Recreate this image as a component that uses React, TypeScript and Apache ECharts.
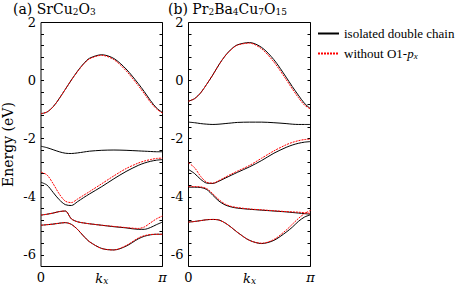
import React, { useEffect, useRef } from "react";
import * as echarts from "echarts";

// k_x sample points, in units of pi
const kx = [0, 0.05, 0.1, 0.15, 0.2, 0.25, 0.3, 0.35, 0.4, 0.5, 0.6, 0.7, 0.8, 0.85, 0.9, 0.95, 1];

// (a) SrCu2O3
const a1Black = [-1.14, -1.08, -0.9, -0.62, -0.3, 0.02, 0.32, 0.58, 0.77, 0.89, 0.76, 0.4, -0.1, -0.38, -0.68, -0.94, -1.1];
const a1Red = [-1.14, -1.08, -0.9, -0.62, -0.3, 0.02, 0.31, 0.56, 0.75, 0.87, 0.72, 0.34, -0.17, -0.45, -0.74, -0.97, -1.12];
const a2Black = [-2.26, -2.31, -2.38, -2.45, -2.5, -2.51, -2.49, -2.46, -2.43, -2.4, -2.39, -2.4, -2.42, -2.43, -2.44, -2.45, -2.45];
const a3Black = [-3.5, -3.6, -3.85, -4.1, -4.27, -4.3, -4.17, -4.03, -3.9, -3.65, -3.38, -3.13, -2.92, -2.84, -2.78, -2.74, -2.72];
const a3Red = [-3.15, -3.25, -3.55, -3.9, -4.15, -4.2, -4.08, -3.95, -3.82, -3.55, -3.28, -3.03, -2.84, -2.77, -2.72, -2.68, -2.67];
const a4Black = [-4.63, -4.6, -4.56, -4.51, -4.49, -4.76, -4.86, -4.9, -4.93, -4.98, -5.03, -5.07, -5.12, -5.12, -5.06, -4.96, -4.87];
const a4Red = [-4.63, -4.6, -4.56, -4.51, -4.49, -4.76, -4.86, -4.9, -4.93, -4.98, -5.02, -5.06, -5.09, -5.04, -4.9, -4.76, -4.66];
const a5Black = [-4.98, -4.96, -4.94, -4.91, -4.89, -4.95, -5.12, -5.35, -5.55, -5.78, -5.83, -5.7, -5.45, -5.36, -5.31, -5.29, -5.29];
const a5Red = [-4.98, -4.96, -4.94, -4.91, -4.89, -4.95, -5.12, -5.35, -5.55, -5.78, -5.83, -5.68, -5.42, -5.34, -5.3, -5.29, -5.29];

// (b) Pr2Ba4Cu7O15
const b1Black = [-0.71, -0.62, -0.42, -0.12, 0.2, 0.55, 0.85, 1.08, 1.23, 1.31, 1.14, 0.72, 0.12, -0.2, -0.5, -0.78, -0.97];
const b1Red = [-0.71, -0.62, -0.42, -0.12, 0.2, 0.55, 0.85, 1.07, 1.22, 1.29, 1.09, 0.64, 0.04, -0.28, -0.58, -0.84, -0.98];
const b2Black = [-1.43, -1.45, -1.48, -1.5, -1.51, -1.5, -1.48, -1.46, -1.44, -1.43, -1.43, -1.45, -1.48, -1.5, -1.51, -1.51, -1.51];
const b3Black = [-3.06, -3.2, -3.4, -3.53, -3.54, -3.46, -3.36, -3.26, -3.16, -2.97, -2.75, -2.5, -2.3, -2.22, -2.16, -2.12, -2.1];
const b3Red = [-2.83, -3.0, -3.3, -3.5, -3.53, -3.44, -3.33, -3.22, -3.12, -2.92, -2.67, -2.42, -2.21, -2.13, -2.07, -2.03, -2.02];
const b4Black = [-3.67, -3.67, -3.68, -3.75, -3.95, -4.15, -4.28, -4.35, -4.39, -4.43, -4.46, -4.49, -4.52, -4.54, -4.56, -4.58, -4.6];
const b4Red = [-3.65, -3.65, -3.66, -3.72, -3.9, -4.1, -4.25, -4.33, -4.37, -4.42, -4.45, -4.48, -4.51, -4.52, -4.53, -4.55, -4.57];
const b5Black = [-4.87, -4.85, -4.82, -4.79, -4.78, -4.8, -4.9, -5.05, -5.22, -5.5, -5.61, -5.5, -5.22, -5.05, -4.85, -4.7, -4.62];
const b5Red = [-4.87, -4.85, -4.82, -4.79, -4.78, -4.8, -4.9, -5.05, -5.22, -5.5, -5.6, -5.47, -5.15, -4.95, -4.75, -4.58, -4.47];

const NAME_BLACK = "isolated double chain";
const NAME_RED = "without O1-px";
const xTickLabels = ["0", "π"];
const yLabelValues = [-6, -4, -2, 0, 2];

const FONT = "DejaVu Serif";
const FONT2 = "Liberation Serif";

export default function App() {
  const ref = useRef<HTMLDivElement>(null);
  useEffect(() => {
    document.body.style.margin = "0";
    const chart = echarts.init(ref.current!, null, { renderer: "svg" });

    const mk = (name: string, ys: number[], g: number, red: boolean) => ({
      type: "line",
      name,
      data: kx.map((x, i) => [x, ys[i]]),
      xAxisIndex: g,
      yAxisIndex: g * 2,
      symbol: "none",
      smooth: 0.3,
      silent: true,
      z: red ? 3 : 2,
      lineStyle: { color: red ? "#ff0000" : "#000000", width: 1, type: red ? [2, 1] : "solid" },
      itemStyle: { color: red ? "#ff0000" : "#000000" },
    });

    const yAx = (g: number, position: string, labels: boolean) => ({
      type: "value",
      gridIndex: g,
      position,
      min: -6.4,
      max: 2,
      interval: 0.4,
      axisLine: { show: false },
      axisTick: { show: true, inside: true, length: 3, lineStyle: { color: "#000", width: 1 } },
      splitLine: { show: false },
      axisLabel: {
        show: labels,
        color: "#000",
        fontFamily: FONT,
        fontSize: 13,
        margin: 5,
        formatter: (v: number) => {
          const r = Math.round(v);
          return Math.abs(v - r) < 1e-6 && yLabelValues.includes(r) ? String(r) : "";
        },
      },
      ...(g === 0 && position === "left"
        ? {
            name: "Energy (eV)",
            nameLocation: "middle",
            nameGap: 26,
            nameMoveOverlap: false,
            nameTextStyle: { color: "#000", fontFamily: FONT, fontSize: 14 },
          }
        : {}),
    });

    const xAx = (g: number) => ({
      type: "value",
      gridIndex: g,
      min: 0,
      max: 1,
      interval: 1,
      axisLine: { show: false },
      axisTick: { show: false },
      splitLine: { show: false },
      axisLabel: {
        color: "#000",
        fontFamily: FONT,
        fontSize: 13,
        margin: 4,
        formatter: (v: number) => (v === 0 ? "{n|" + xTickLabels[0] + "}" : "{p|" + xTickLabels[1] + "}"),
        rich: {
          n: { fontFamily: FONT, fontSize: 13, color: "#000" },
          p: { fontFamily: FONT, fontSize: 13, color: "#000", fontStyle: "italic" },
        },
      },
      name: "{k|k}{s|x}",
      nameLocation: "middle",
      nameGap: 5,
      nameMoveOverlap: false,
      nameTextStyle: {
        rich: {
          k: { fontFamily: FONT, fontStyle: "italic", fontSize: 13, color: "#000", lineHeight: 14 },
          s: { fontFamily: FONT, fontStyle: "italic", fontSize: 9, color: "#000", lineHeight: 8, verticalAlign: "bottom" },
        },
      },
    });

    const titleRich = {
      n: { fontFamily: FONT, fontSize: 14, color: "#000", lineHeight: 15, fontWeight: "normal" },
      s: { fontFamily: FONT, fontSize: 9, color: "#000", lineHeight: 8, verticalAlign: "bottom", fontWeight: "normal" },
    };

    chart.setOption({
      animation: false,
      textStyle: { fontFamily: FONT },
      title: [
        { text: "{n|(a) SrCu}{s|2}{n|O}{s|3}", left: 13, top: 1, padding: 0, textStyle: { rich: titleRich } },
        { text: "{n|(b) Pr}{s|2}{n|Ba}{s|4}{n|Cu}{s|7}{n|O}{s|15}", left: 168, top: 1, padding: 0, textStyle: { rich: titleRich } },
      ],
      legend: {
        data: [NAME_BLACK, NAME_RED],
        orient: "vertical",
        left: 317,
        top: 27,
        padding: 0,
        itemWidth: 21,
        itemHeight: 12,
        itemGap: 7,
        selectedMode: false,
        itemStyle: { opacity: 0 },
        textStyle: {
          color: "#000",
          fontFamily: FONT2,
          fontSize: 13,
          rich: {
            n: { fontFamily: FONT2, fontSize: 13, color: "#000" },
            i: { fontFamily: FONT2, fontSize: 13, color: "#000", fontStyle: "italic" },
            s: { fontFamily: FONT2, fontSize: 9, color: "#000", fontStyle: "italic", lineHeight: 8, verticalAlign: "bottom" },
          },
        },
        formatter: (name: string) => (name === NAME_RED ? "{n|without O1-}{i|p}{s|x}" : "{n|" + name + "}"),
      },
      grid: [
        { left: 41, top: 22.5, width: 121.5, height: 244, outerBoundsMode: "none", containLabel: false, show: true, borderColor: "#000", borderWidth: 1, backgroundColor: "transparent" },
        { left: 188.5, top: 22.5, width: 122, height: 244, outerBoundsMode: "none", containLabel: false, show: true, borderColor: "#000", borderWidth: 1, backgroundColor: "transparent" },
      ],
      xAxis: [xAx(0), xAx(1)],
      yAxis: [yAx(0, "left", true), yAx(0, "right", false), yAx(1, "left", true), yAx(1, "right", false)],
      series: [
        mk(NAME_BLACK, a1Black, 0, false),
        mk(NAME_BLACK, a2Black, 0, false),
        mk(NAME_BLACK, a3Black, 0, false),
        mk(NAME_BLACK, a4Black, 0, false),
        mk(NAME_BLACK, a5Black, 0, false),
        mk(NAME_RED, a1Red, 0, true),
        mk(NAME_RED, a3Red, 0, true),
        mk(NAME_RED, a4Red, 0, true),
        mk(NAME_RED, a5Red, 0, true),
        mk(NAME_BLACK, b1Black, 1, false),
        mk(NAME_BLACK, b2Black, 1, false),
        mk(NAME_BLACK, b3Black, 1, false),
        mk(NAME_BLACK, b4Black, 1, false),
        mk(NAME_BLACK, b5Black, 1, false),
        mk(NAME_RED, b1Red, 1, true),
        mk(NAME_RED, b3Red, 1, true),
        mk(NAME_RED, b4Red, 1, true),
        mk(NAME_RED, b5Red, 1, true),
      ],
    });
    return () => chart.dispose();
  }, []);
  return <div ref={ref} style={{ width: 458, height: 287 }} />;
}
